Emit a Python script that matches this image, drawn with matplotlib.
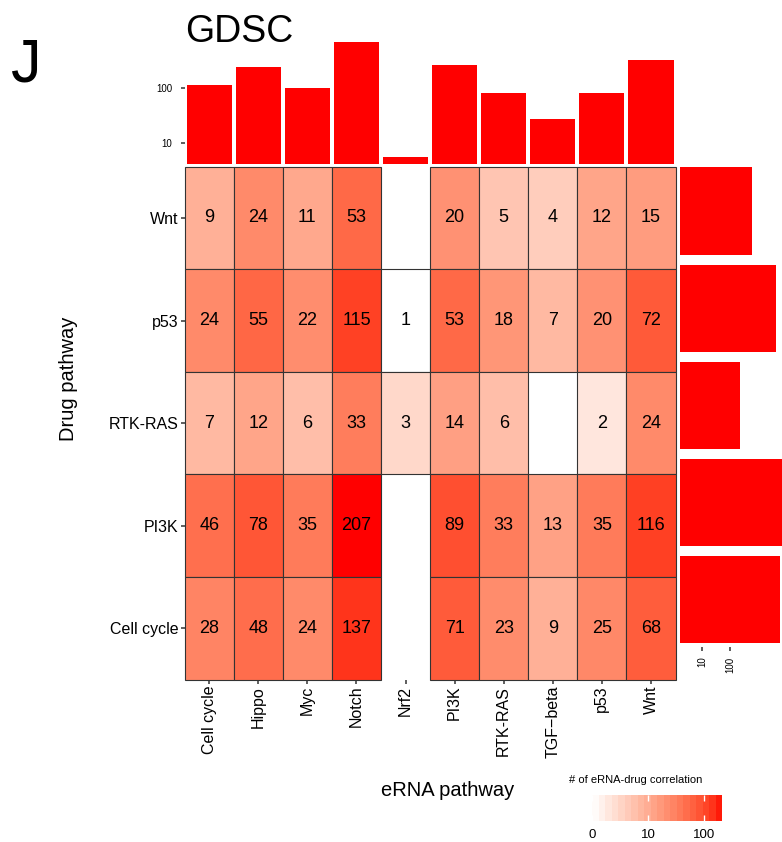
import numpy as np
import matplotlib
matplotlib.use('Agg')
import matplotlib.pyplot as plt
from matplotlib.colors import ListedColormap, Normalize

plt.rcParams['font.family'] = ['Liberation Sans', 'DejaVu Sans']

# data
erna_pathways = ['Cell cycle', 'Hippo', 'Myc', 'Notch', 'Nrf2', 'PI3K',
                 'RTK-RAS', 'TGF\u2212beta', 'p53', 'Wnt']
drug_pathways = ['Wnt', 'p53', 'RTK-RAS', 'PI3K', 'Cell cycle']
nan = np.nan
counts = np.array([
    [9, 24, 11, 53, nan, 20, 5, 4, 12, 15],
    [24, 55, 22, 115, 1, 53, 18, 7, 20, 72],
    [7, 12, 6, 33, 3, 14, 6, nan, 2, 24],
    [46, 78, 35, 207, nan, 89, 33, 13, 35, 116],
    [28, 48, 24, 137, nan, 71, 23, 9, 25, 68],
])
top_totals = np.array([112, 238, 99, 678, 5.6, 262, 81, 27, 81, 319])
right_totals = np.array([596, 4270, 222, 7500, 5960])
cbar_ticks = [1, 10, 100]
cbar_labels = ['0', '10', '100']


# white -> red gradient interpolated in CIELAB (like ggplot's scale_fill_gradient)
WHITE_PT = np.array([0.95047, 1.0, 1.08883])
M = np.array([[0.4124, 0.3576, 0.1805],
              [0.2126, 0.7152, 0.0722],
              [0.0193, 0.1192, 0.9505]])


def to_lab(rgb):
    c = np.asarray(rgb, float)
    lin = np.where(c <= 0.04045, c / 12.92, ((c + 0.055) / 1.055) ** 2.4)
    xyz = M @ lin / WHITE_PT
    f = np.where(xyz > 0.008856, np.cbrt(xyz), 7.787 * xyz + 16 / 116)
    return np.array([116 * f[1] - 16, 500 * (f[0] - f[1]), 200 * (f[1] - f[2])])


def to_rgb(lab):
    L, a, b = lab
    fy = (L + 16) / 116
    f = np.array([fy + a / 500, fy, fy - b / 200])
    xyz = np.where(f ** 3 > 0.008856, f ** 3, (f - 16 / 116) / 7.787) * WHITE_PT[:, None]
    lin = np.clip(np.linalg.inv(M) @ xyz, 0, 1)
    return np.where(lin <= 0.0031308, 12.92 * lin, 1.055 * lin ** (1 / 2.4) - 0.055)


t = np.linspace(0, 1, 256)
lab_lo, lab_hi = to_lab([1, 1, 1]), to_lab([1, 0, 0])
labs = lab_lo[:, None] + (lab_hi - lab_lo)[:, None] * t[None, :]
cmap = ListedColormap(np.clip(to_rgb(labs).T, 0, 1))
lmax = np.log10(np.nanmax(counts))
norm = Normalize(0, lmax)

W, H = 782, 842
fig = plt.figure(figsize=(W / 100, H / 100), dpi=100)


def box(x0, y0, x1, y1):
    return [x0 / W, 1 - y1 / H, (x1 - x0) / W, (y1 - y0) / H]


tick_kw = dict(length=3, width=1.1, color='#333333')

# heatmap
ax = fig.add_axes(box(184.7, 166.7, 675.5, 679.5))
cols = np.arange(len(erna_pathways))
for i, row in enumerate(counts):
    ok = ~np.isnan(row)
    bars = ax.bar(cols[ok], 1, bottom=i - 0.5, width=1,
                  color=cmap(norm(np.log10(row[ok]))),
                  edgecolor='#333333', linewidth=0.8)
    for p in bars:
        p.set_clip_on(False)
    for x, v in zip(cols[ok], row[ok]):
        ax.text(x, i, f'{int(v)}', ha='center', va='center', fontsize=13)
ax.set_xlim(-0.5, 9.5)
ax.set_ylim(4.5, -0.5)
ax.set_xticks(cols, erna_pathways, rotation=90, fontsize=11.5)
ax.set_yticks(range(len(drug_pathways)), drug_pathways, fontsize=11.5)
ax.tick_params(pad=1.5, **tick_kw)
for s in ax.spines.values():
    s.set_visible(False)

# top bars
ax_top = fig.add_axes(box(184.7, 40, 675.5, 164))
ylo = 4.15
ax_top.bar(cols, top_totals - ylo, bottom=ylo, width=0.92, color='#FF0000')
ax_top.set_yscale('log')
ax_top.set_ylim(ylo, 746)
ax_top.set_xlim(-0.5, 9.5)
ax_top.set_yticks([10, 100], ['10', '100'], fontsize=7)
ax_top.minorticks_off()
ax_top.set_xticks([])
ax_top.tick_params(axis='y', pad=6, **tick_kw)
for s in ax_top.spines.values():
    s.set_visible(False)

# right bars
ax_r = fig.add_axes(box(680, 164, 782, 647))
xlo = 1.6
ax_r.barh(range(len(drug_pathways)), right_totals - xlo, left=xlo, height=0.9, color='#FF0000')
ax_r.set_xscale('log')
ax_r.set_xlim(xlo, 7000)
ax_r.set_ylim(4.488, -0.486)
ax_r.set_xticks([10, 100], ['10', '100'], fontsize=7, rotation=90)
ax_r.minorticks_off()
ax_r.set_yticks([])
ax_r.tick_params(axis='x', pad=4, **tick_kw)
for s in ax_r.spines.values():
    s.set_visible(False)

# colour bar
ax_cb = fig.add_axes(box(592, 795, 722, 821))
edges = np.linspace(0, lmax, 21)
centers = (edges[:-1] + edges[1:]) / 2
ax_cb.pcolormesh(edges, [0, 1], centers[None, :], cmap=cmap, norm=norm)
ax_cb.set_xlim(0, lmax)
ax_cb.set_xticks(np.log10(cbar_ticks), cbar_labels, fontsize=9.5)
ax_cb.set_yticks([])
ax_cb.tick_params(axis='x', direction='in', length=4, width=1, color='white',
                  top=True, pad=6)
for s in ax_cb.spines.values():
    s.set_visible(False)
fig.text(569 / W, 1 - 780 / H, '# of eRNA-drug correlation', fontsize=8, va='center')

fig.text(185 / W, 1 - 42 / H, 'GDSC', fontsize=27, va='baseline')
fig.text(448 / W, 1 - 791 / H, 'eRNA pathway', fontsize=14.5, ha='center', va='center')
fig.text(68 / W, 1 - 379 / H, 'Drug pathway', fontsize=14.5, ha='center', va='center',
         rotation=90)
fig.text(11 / W, 1 - 81 / H, 'J', fontsize=44, va='baseline')

fig.savefig('out.png', dpi=100)
